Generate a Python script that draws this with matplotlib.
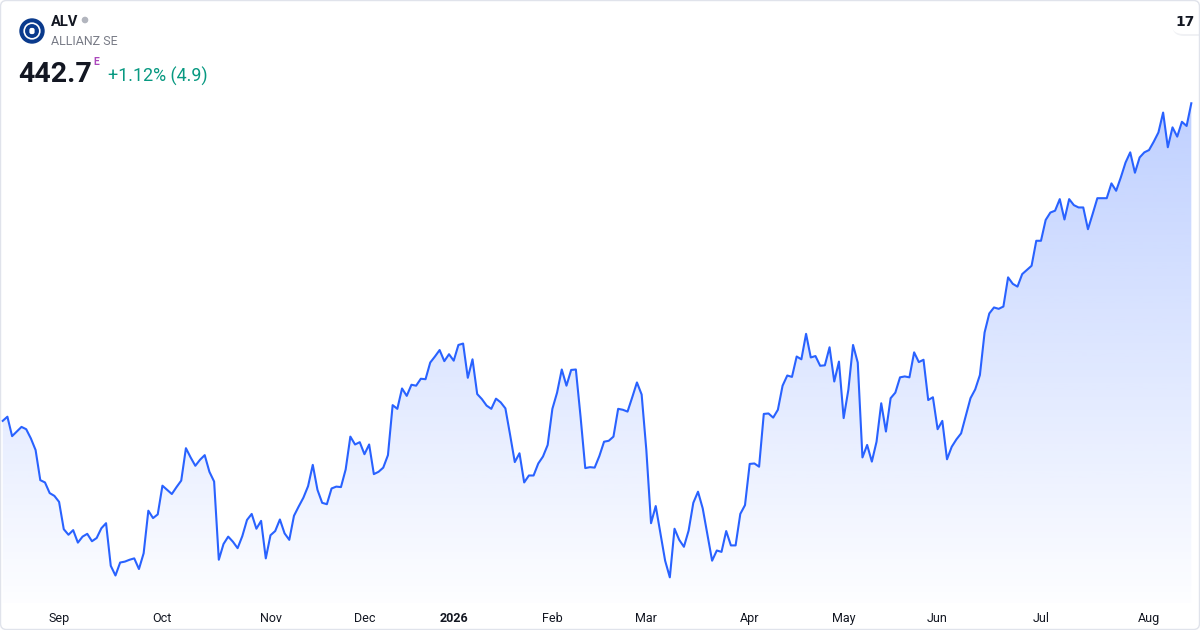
import numpy as np
import pandas as pd
import matplotlib
matplotlib.use("Agg")
import matplotlib.pyplot as plt
from matplotlib.patches import Circle, FancyBboxPatch, Polygon

plt.rcParams['font.family'] = ['Roboto', 'DejaVu Sans']

# header texts
symbol = "ALV"
company = "ALLIANZ SE"
last_price = "442.7"
change_text = "+1.12% (4.9)"

# Xetra closing days inside the window
holidays = ["2025-12-24", "2025-12-25", "2025-12-26", "2025-12-31",
            "2026-01-01", "2026-04-03", "2026-04-06", "2026-05-01"]

# daily closes (EUR)
prices = [
    374.1, 375.0, 370.8, 371.8, 372.8, 372.3, 370.3, 367.8, 361.3, 360.8,
    358.5, 357.9, 356.6, 350.7, 349.5, 350.5, 347.8, 349.1, 349.7, 348.1,
    348.8, 350.9, 352.0, 342.8, 340.7, 343.5, 343.7, 344.1, 344.4, 342.1,
    345.5, 354.7, 353.1, 353.9, 360.1, 359.2, 358.3, 359.8, 361.2, 368.2,
    366.2, 364.4, 365.7, 366.7, 363.1, 361.0, 344.1, 347.5, 349.1, 348.0,
    346.6, 349.2, 352.7, 354.0, 350.8, 352.5, 344.4, 349.4, 350.3, 352.8,
    349.8, 348.4, 353.6, 355.6, 357.5, 360.0, 364.6, 359.2, 356.4, 356.1,
    359.5, 359.9, 359.8, 363.6, 370.7, 369.0, 369.5, 366.9, 369.0, 362.6,
    363.1, 364.0, 366.7, 377.5, 376.7, 381.1, 379.5, 381.9, 381.7, 383.2,
    383.1, 386.7, 388.0, 389.4, 387.0, 388.5, 387.1, 390.5, 390.8, 383.4,
    387.4, 379.9, 378.8, 377.4, 376.7, 378.9, 378.1, 376.8, 371.1, 365.2,
    367.1, 360.8, 362.3, 362.3, 364.9, 366.4, 368.9, 376.7, 380.2, 385.2,
    381.7, 385.1, 385.2, 375.0, 363.9, 364.1, 364.0, 366.5, 369.6, 369.8,
    370.7, 376.7, 376.5, 376.1, 379.2, 382.4, 379.8, 367.8, 352.0, 355.7,
    349.8, 343.9, 340.3, 350.8, 348.4, 346.9, 350.4, 356.4, 358.8, 355.2,
    349.5, 343.9, 346.1, 345.8, 350.3, 347.2, 347.2, 354.0, 355.9, 364.8,
    364.9, 364.2, 375.6, 375.7, 374.8, 376.5, 381.7, 383.9, 383.6, 388.0,
    387.4, 392.9, 387.8, 388.1, 386.0, 386.1, 390.0, 382.6, 386.9, 374.7,
    380.8, 390.5, 386.7, 366.2, 368.9, 365.3, 369.6, 377.9, 371.8, 379.0,
    380.2, 383.5, 383.7, 383.5, 388.9, 386.8, 387.3, 378.6, 379.2, 372.3,
    374.1, 365.8, 368.5, 370.1, 371.4, 375.2, 379.0, 380.9, 384.0, 393.2,
    397.3, 398.6, 398.3, 398.8, 405.1, 403.7, 403.1, 405.8, 406.7, 407.6,
    413.0, 413.0, 417.5, 419.1, 419.5, 422.0, 417.6, 422.0, 420.7, 420.2,
    420.2, 415.5, 418.8, 422.2, 422.2, 422.2, 425.4, 423.8, 426.7, 429.9,
    432.1, 427.7, 431.0, 432.1, 432.6, 434.4, 436.4, 440.7, 433.2, 437.5,
    435.5, 438.7, 437.8, 442.7,
]

dates = pd.bdate_range("2025-08-14", "2026-08-14")
dates = dates[~dates.isin(pd.to_datetime(holidays))]
n = min(len(dates), len(prices))
dates = dates[:n]
prices = np.array(prices[:n])
x = np.arange(n)

# first trading day of every month -> tick
tick_pos = [i for i in range(1, n) if dates[i].month != dates[i - 1].month]
tick_lab = [str(dates[i].year) if dates[i].month == 1 else dates[i].strftime("%b")
            for i in tick_pos]

line_col = "#2962ff"
text_col = "#131722"

fig = plt.figure(figsize=(12, 6.3), dpi=100)
fig.patch.set_facecolor("white")

ax = fig.add_axes([0, 27 / 630, 1, 603 / 630])
xmin, xmax = -0.575, n - 1 + 1.85
ymin, ymax = 334.76, 465.01

# gradient under the line
img = np.zeros((256, 1, 4))
img[..., 0] = 41 / 255
img[..., 1] = 98 / 255
img[..., 2] = 1.0
img[..., 3] = np.linspace(0.30, 0.01, 256)[:, None]
im = ax.imshow(img, extent=[xmin, xmax, ymin, prices.max()], aspect="auto",
               origin="upper", zorder=1, interpolation="bilinear")
verts = np.column_stack([np.r_[x[0], x, x[-1]], np.r_[ymin, prices, ymin]])
clip = Polygon(verts, closed=True, facecolor="none", edgecolor="none")
ax.add_patch(clip)
im.set_clip_path(clip)

ax.plot(x, prices, color=line_col, lw=1.5, zorder=3)

ax.set_xlim(xmin, xmax)
ax.set_ylim(ymin, ymax)
ax.set_yticks([])
ax.set_xticks(tick_pos)
ax.set_xticklabels(tick_lab)
ax.tick_params(axis="x", length=0, pad=6.5, labelsize=9, labelcolor=text_col)
for lab in ax.get_xticklabels():
    if lab.get_text().isdigit():
        lab.set_fontweight("bold")
for s in ax.spines.values():
    s.set_visible(False)
ax.patch.set_alpha(0)

# header overlay in pixel units
hd = fig.add_axes([0, 0, 1, 1], zorder=5)
hd.set_xlim(0, 1200)
hd.set_ylim(630, 0)
hd.axis("off")
hd.patch.set_alpha(0)

hd.add_patch(Circle((32, 31), 12, color="#0a3a8c"))
hd.add_patch(Circle((32, 31), 7.8, fc="none", ec="white", lw=1.2))
hd.add_patch(FancyBboxPatch((29.7, 28.2), 4.6, 5.6, boxstyle="round,pad=0.3,rounding_size=2",
                            fc="white", ec="none"))
hd.text(51, 26, symbol, fontsize=10.6, fontweight="bold", color=text_col, va="baseline")
hd.add_patch(Circle((85, 20), 2.6, color="#b2b5be"))
hd.text(51, 45, company, fontsize=8.9, color="#787b86", va="baseline")
hd.text(18, 82, last_price, fontsize=20.5, fontweight="bold", color=text_col, va="baseline")
hd.text(93, 65, "E", fontsize=7.5, fontweight="bold", color="#ab47bc", va="baseline")
hd.text(108, 81.5, change_text, fontsize=12.9, color="#089981", va="baseline")

# TradingView badge
hd.add_patch(FancyBboxPatch((1172, 12), 40, 24, boxstyle="round,pad=0,rounding_size=12",
                            fc="#e6e8ee", ec="none", alpha=0.6))
hd.add_patch(FancyBboxPatch((1171, 10), 40, 24, boxstyle="round,pad=0,rounding_size=12",
                            fc="white", ec="none"))
hd.text(1185, 22, "17", fontsize=10, fontweight="bold", color=text_col,
        ha="center", va="center", family="DejaVu Sans")

# widget border
hd.add_patch(FancyBboxPatch((0.5, 0.5), 1199, 629, boxstyle="round,pad=0,rounding_size=6",
                            fc="none", ec="#e0e3eb", lw=1))

fig.savefig("out.png", dpi=100)
